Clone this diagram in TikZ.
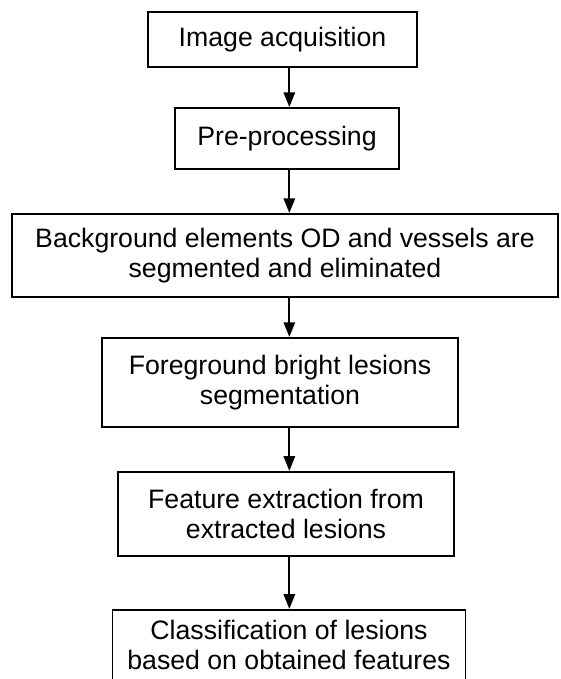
\documentclass[tikz,border=0pt]{standalone}
\usepackage{fontspec}
\setmainfont{Liberation Sans}
\usetikzlibrary{positioning,arrows.meta}

\begin{document}
\begin{tikzpicture}[
		stepbox/.style={rectangle, draw=black, line width=1.3pt, align=center,
			font=\fontsize{20pt}{22.5pt}\selectfont, inner sep=2pt},
		flowarrow/.style={line width=1.4pt, -{Triangle[length=11pt, width=8.5pt]}}
	]

	\clip (0,0) rectangle (420.75pt,-509.25pt);

	\node[stepbox, minimum width=201.75pt, minimum height=41.25pt] (acq) at (211.875pt,-29.625pt) {Image acquisition};
	\node[stepbox, minimum width=168pt, minimum height=45.75pt] (pre) [below=29.4pt of acq, xshift=3.375pt] {Pre-processing};
	\node[stepbox, minimum width=409.5pt, minimum height=62.25pt] (bg) [below=32.4pt of pre, xshift=-1.5pt] {Background elements OD and vessels are\\segmented and eliminated};
	\node[stepbox, minimum width=267pt, minimum height=66.75pt] (fg) [below=29.4pt of bg, xshift=-3.75pt] {Foreground bright lesions\\segmentation};
	\node[stepbox, minimum width=252pt, minimum height=63pt] (feat) [below=32.4pt of fg, xshift=4.5pt] {Feature extraction from\\extracted lesions};
	\node[stepbox, minimum width=264.75pt, minimum height=53pt, inner sep=0pt] (cls) [below=39.2pt of feat, xshift=2.25pt] {Classification of lesions\\based on obtained features};

	% arrows run down one column
	\coordinate (axis) at (217pt,0);
	\draw[flowarrow] (acq.south -| axis) -- (pre.north -| axis);
	\draw[flowarrow] (pre.south -| axis) -- (bg.north -| axis);
	\draw[flowarrow] (bg.south -| axis) -- (fg.north -| axis);
	\draw[flowarrow] (fg.south -| axis) -- (feat.north -| axis);
	\draw[flowarrow] (feat.south -| axis) -- (cls.north -| axis);

\end{tikzpicture}
\end{document}
